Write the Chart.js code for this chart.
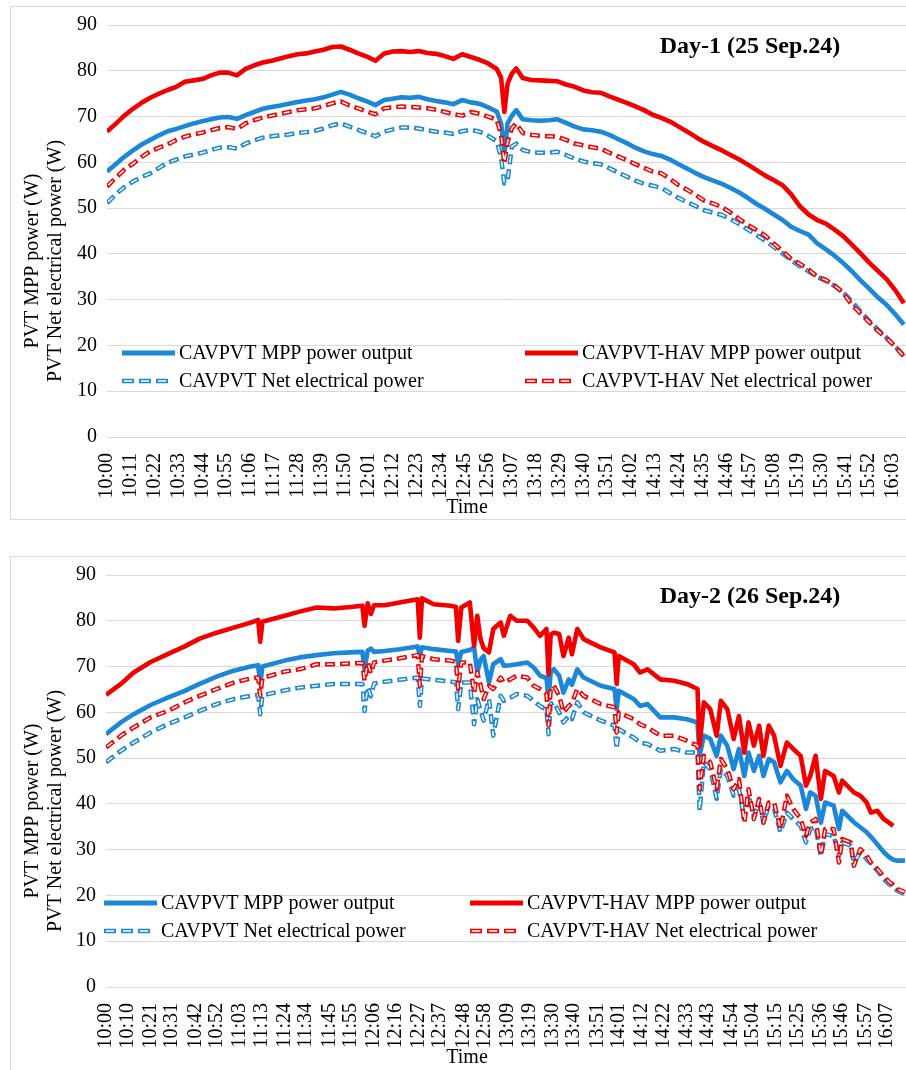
<!DOCTYPE html>
<html>
<head>
<meta charset="utf-8">
<title>PVT MPP and net electrical power</title>
<script src="https://cdn.jsdelivr.net/npm/chart.js@4.4.1/dist/chart.umd.min.js"></script>
<style>
  html, body { margin: 0; padding: 0; background: #fff; overflow: hidden; }
  body { width: 906px; height: 1070px; position: relative; }
  .panel { position: absolute; left: 10px; width: 910px; border: 1px solid #d9d9d9; box-sizing: border-box; background: #fff; }
  .panel canvas { display: block; }
</style>
</head>
<body>
<div class="panel" style="top:6px;height:514px"><canvas id="day1" width="895" height="512"></canvas></div>
<div class="panel" style="top:556px;height:530px"><canvas id="day2" width="895" height="512"></canvas></div>
<script>
// minutes after 10:00
const day1Time = [
  0, 4, 8, 12, 16, 20, 24, 28, 32, 36, 40, 44, 48, 52, 56, 60, 64, 68, 72, 76, 80, 84, 88,
  92, 96, 100, 104, 108, 112, 116, 120, 124, 128, 132, 136, 140, 144, 148, 152, 156, 160,
  164, 168, 172, 176, 180,
  182, 183.5, 185, 187, 189,
  192, 196, 200, 204, 208, 212, 216, 220, 224, 228, 232, 236, 240, 244, 248, 252, 256, 260,
  264, 268, 272, 276, 280, 284, 288, 292, 296, 300, 304, 308, 312, 316, 320, 324, 328, 332,
  336, 340, 344, 348, 352, 356, 360, 364, 368
];
const day1CavMpp = [
  58.0, 59.6, 61.2, 62.6, 63.9, 64.9, 65.9, 66.8, 67.3, 67.9, 68.5, 69.0, 69.4, 69.8, 69.9,
  69.5, 70.3, 71.0, 71.7, 72.1, 72.4, 72.8, 73.2, 73.5, 73.8, 74.2, 74.8, 75.4, 74.8, 74.0,
  73.3, 72.5, 73.6, 73.9, 74.2, 74.1, 74.3, 73.8, 73.4, 73.1, 72.7, 73.6, 73.1, 72.8, 72.0, 71.1,
  68.5, 61.9, 68.5, 70.2, 71.4,
  69.4, 69.2, 69.1, 69.2, 69.4, 68.6, 67.8, 67.2, 67.0, 66.7, 66.0, 65.1, 64.2, 63.2, 62.4,
  61.8, 61.4, 60.6, 59.6, 58.6, 57.6, 56.7, 56.0, 55.3, 54.4, 53.4, 52.2, 50.9, 49.8, 48.6,
  47.4, 45.9, 45.0, 44.2, 42.3, 41.0, 39.6, 38.0, 36.2, 34.2, 32.4, 30.5, 28.9, 26.8, 24.6
];
const day1HavMpp = [
  66.7, 68.4, 70.2, 71.7, 73.0, 74.1, 75.0, 75.8, 76.5, 77.6, 77.9, 78.2, 79.0, 79.6, 79.6,
  79.0, 80.4, 81.2, 81.8, 82.2, 82.7, 83.2, 83.6, 83.8, 84.2, 84.6, 85.2, 85.3, 84.6, 83.8,
  83.1, 82.2, 83.8, 84.2, 84.3, 84.1, 84.3, 83.9, 83.7, 83.2, 82.6, 83.6, 83.0, 82.4, 81.6, 80.4,
  78.5, 71.0, 77.2, 79.4, 80.5,
  78.4, 78.0, 77.9, 77.8, 77.7, 77.0, 76.5, 75.7, 75.3, 75.2, 74.4, 73.7, 73.0, 72.2, 71.4,
  70.4, 69.7, 68.9, 67.8, 66.7, 65.5, 64.4, 63.5, 62.6, 61.6, 60.6, 59.5, 58.3, 57.1, 56.1,
  55.0, 53.0, 50.4, 48.6, 47.4, 46.6, 45.3, 43.9, 42.0, 40.1, 38.1, 36.3, 34.5, 32.1, 29.2
];
const day1CavNet = [
  51.1, 53.0, 54.6, 55.8, 56.8, 57.6, 58.8, 59.9, 60.6, 61.3, 61.7, 62.1, 62.7, 63.2, 63.3,
  63.0, 64.1, 64.8, 65.4, 65.7, 65.9, 66.1, 66.4, 66.6, 66.9, 67.4, 68.1, 68.5, 67.8, 67.1,
  66.4, 65.7, 66.7, 67.2, 67.6, 67.6, 67.4, 67.0, 66.7, 66.5, 66.2, 66.8, 67.1, 66.7, 65.8, 64.6,
  61.0, 55.4, 56.0, 63.5, 64.1,
  62.7, 62.2, 62.1, 62.1, 62.3, 61.6, 60.8, 60.2, 59.8, 59.6, 58.7, 57.8, 56.9, 56.0, 55.3,
  54.9, 54.4, 53.3, 52.2, 51.3, 50.4, 49.5, 49.0, 48.5, 47.6, 46.5, 45.3, 44.1, 42.9, 41.5,
  40.1, 38.6, 37.3, 36.2, 35.0, 34.1, 33.0, 31.6, 29.6, 27.4, 25.4, 23.5, 21.7, 19.8, 17.8
];
const day1HavNet = [
  54.7, 56.6, 58.4, 59.7, 61.2, 62.4, 63.2, 63.9, 64.9, 65.6, 66.1, 66.5, 67.0, 67.5, 67.7,
  67.3, 68.5, 69.2, 69.8, 70.2, 70.6, 71.0, 71.4, 71.6, 71.8, 72.3, 72.9, 73.3, 72.4, 71.8,
  71.1, 70.5, 71.8, 72.0, 72.2, 72.1, 72.0, 71.8, 71.5, 71.0, 70.5, 70.2, 71.0, 70.6, 70.0, 69.3,
  66.0, 59.7, 64.5, 67.5, 68.5,
  66.4, 66.0, 65.8, 65.7, 65.6, 64.9, 64.1, 63.7, 63.3, 63.0, 62.1, 61.3, 60.5, 59.6, 58.8,
  58.0, 57.6, 56.4, 55.0, 54.0, 52.8, 51.6, 51.0, 50.2, 49.0, 47.6, 46.3, 45.2, 44.0, 42.2,
  40.6, 38.9, 37.8, 36.6, 35.0, 34.3, 33.1, 31.5, 28.9, 27.0, 25.1, 23.2, 21.6, 19.8, 17.6
];
const day1Ticks = [
  '10:00', '10:11', '10:22', '10:33', '10:44', '10:55', '11:06', '11:17', '11:28', '11:39',
  '11:50', '12:01', '12:12', '12:23', '12:34', '12:45', '12:56', '13:07', '13:18', '13:29',
  '13:40', '13:51', '14:02', '14:13', '14:24', '14:35', '14:46', '14:57', '15:08', '15:19',
  '15:30', '15:41', '15:52', '16:03'
];

const day2Time = [
  0, 7, 13, 21, 29, 37, 44, 52, 60, 68,
  71.5, 72.5, 73.5, 84, 91, 99, 107, 115, 120.5, 121.5,
  123, 124.5, 126, 131, 138, 146.5, 147.5, 148.5, 154, 162,
  164.5, 165.5, 167, 171, 173, 174.5, 176, 177.5, 180, 182,
  185.5, 187, 190, 193, 198, 201, 204, 207, 208, 209,
  210.5, 213, 215, 217.5, 219, 221.5, 224.5, 232.5, 239, 240,
  241, 248, 251, 254.5, 260.5, 267, 273, 278, 279, 281,
  284, 287, 289, 292, 295, 297.5, 300, 302, 304.5, 307,
  309, 311.5, 314, 317, 320, 323, 326.5, 329, 331, 333.5,
  336, 338, 342, 344.5, 346, 350, 351.5, 354.5, 357.5, 359.5,
  362.5, 365.5, 368, 370, 372, 375.5
];
const day2CavMpp = [
  55.2, 57.8, 59.6, 61.6, 63.2, 64.7, 66.2, 67.8, 69.1, 70.0,
  70.3, 66.2, 70.0, 71.3, 72.0, 72.5, 72.9, 73.1, 73.2, 69.4,
  73.5, 73.9, 73.2, 73.4, 73.8, 74.4, 72.3, 74.2, 73.8, 73.4,
  73.3, 70.5, 73.2, 73.6, 74.2, 68.7, 71.5, 72.3, 66.5, 70.5,
  71.6, 70.2, 70.3, 70.5, 70.9, 69.8, 68.0, 67.5, 62.9, 68.8,
  69.4, 68.0, 64.3, 67.2, 66.0, 69.4, 67.6, 65.8, 65.1, 60.7,
  64.7, 62.9, 61.4, 61.8, 58.9, 58.9, 58.5, 57.8, 50.5, 54.9,
  54.2, 50.5, 54.9, 52.7, 47.6, 52.0, 46.1, 51.2, 47.2, 50.5,
  46.1, 49.8, 49.1, 44.7, 47.2, 45.4, 44.0, 38.9, 42.5, 41.8,
  35.9, 40.3, 39.6, 34.5, 38.5, 36.7, 36.0, 34.9, 33.8, 32.8,
  31.2, 29.5, 28.4, 27.8, 27.6, 27.6
];
const day2HavMpp = [
  63.8, 66.2, 68.7, 71.0, 72.7, 74.4, 76.1, 77.4, 78.5, 79.6,
  80.2, 75.4, 79.8, 81.1, 82.0, 82.9, 82.7, 83.0, 83.3, 78.9,
  83.8, 81.5, 83.4, 83.4, 84.0, 84.7, 76.3, 84.9, 83.6, 83.3,
  83.0, 75.6, 82.9, 84.0, 74.5, 81.1, 76.0, 74.0, 73.1, 78.2,
  79.6, 76.7, 81.1, 80.0, 80.0, 78.5, 76.7, 78.2, 68.3, 77.0,
  77.4, 77.1, 72.3, 76.3, 72.7, 78.2, 76.0, 74.2, 73.1, 66.2,
  72.3, 70.5, 68.7, 69.4, 67.2, 66.9, 66.2, 65.1, 52.7, 62.2,
  60.7, 54.9, 62.5, 60.7, 54.2, 59.2, 51.2, 57.8, 52.7, 57.1,
  50.5, 57.1, 54.9, 48.3, 53.4, 52.0, 50.5, 44.0, 46.1, 50.5,
  41.1, 47.2, 46.1, 42.5, 45.1, 43.2, 42.5, 41.8, 40.3, 38.1,
  38.5, 36.7, 35.9, 35.2, null, null
];
const day2CavNet = [
  49.1, 51.6, 53.4, 55.6, 57.4, 58.9, 60.3, 61.8, 62.9, 63.6,
  63.8, 59.6, 63.7, 64.8, 65.4, 65.8, 66.2, 66.2, 66.2, 60.3,
  65.5, 63.5, 66.3, 66.7, 67.1, 67.6, 61.4, 67.4, 67.1, 66.7,
  66.6, 60.7, 66.5, 66.5, 57.4, 62.9, 60.5, 58.2, 62.9, 54.9,
  63.6, 62.5, 63.2, 64.0, 63.6, 62.5, 61.4, 60.5, 55.2, 61.8,
  62.2, 60.0, 57.8, 59.2, 58.5, 62.2, 60.0, 58.2, 57.1, 52.0,
  56.3, 54.5, 53.4, 53.1, 51.6, 52.0, 51.2, 51.2, 38.5, 49.1,
  47.6, 41.1, 47.6, 46.1, 41.8, 43.2, 36.7, 41.8, 37.4, 40.3,
  35.9, 39.6, 38.9, 33.8, 38.1, 36.7, 35.2, 31.6, 34.5, 34.9,
  28.7, 33.4, 33.0, 28.7, 31.6, 30.9, 27.2, 29.4, 27.9, 27.0,
  25.4, 23.6, 22.5, 21.8, 21.0, 20.3
];
const day2HavNet = [
  52.3, 54.9, 56.7, 58.9, 60.3, 62.2, 63.6, 65.1, 66.5, 67.4,
  67.6, 63.6, 67.5, 68.9, 69.4, 70.5, 70.5, 70.7, 70.8, 66.9,
  70.9, 68.5, 70.9, 71.3, 71.8, 72.5, 65.8, 72.3, 71.6, 71.3,
  71.0, 65.1, 70.9, 70.9, 64.3, 68.7, 66.0, 62.9, 65.8, 65.1,
  67.6, 66.5, 67.2, 68.0, 67.6, 65.8, 65.1, 64.0, 57.1, 65.0,
  65.8, 63.6, 60.0, 61.4, 62.0, 65.1, 63.6, 61.8, 61.1, 55.6,
  60.0, 58.5, 57.4, 56.7, 54.9, 54.9, 53.8, 52.7, 43.2, 50.5,
  49.1, 43.2, 49.8, 47.6, 43.2, 45.4, 35.9, 43.2, 36.7, 41.1,
  35.9, 40.3, 40.3, 34.5, 41.8, 38.9, 36.7, 33.0, 35.9, 36.7,
  28.7, 34.5, 34.5, 27.2, 32.3, 31.6, 26.5, 30.1, 28.7, 27.2,
  25.8, 24.2, 23.0, 22.3, 21.4, 20.7
];
const day2Ticks = [
  '10:00', '10:10', '10:21', '10:31', '10:42', '10:52', '11:03', '11:13', '11:24', '11:34',
  '11:45', '11:55', '12:06', '12:16', '12:27', '12:37', '12:48', '12:58', '13:09', '13:19',
  '13:30', '13:40', '13:51', '14:01', '14:12', '14:22', '14:33', '14:43', '14:54', '15:04',
  '15:15', '15:25', '15:36', '15:46', '15:57', '16:07'
];

const seriesNames = [
  'CAVPVT MPP power output',
  'CAVPVT-HAV MPP power output',
  'CAVPVT Net electrical power',
  'CAVPVT-HAV Net electrical power'
];
const BLUE = '#1b87d6';
const RED = '#f20000';
const FONT = "'Liberation Serif', 'Times New Roman', serif";

Chart.defaults.font.family = FONT;
Chart.defaults.font.size = 20;
Chart.defaults.color = '#000';

function toMinutes(label) {
  const [h, m] = label.split(':').map(Number);
  return (h - 10) * 60 + m;
}

// white core stroked over a dashed line, gives the outlined dash look
const hollowDash = {
  id: 'hollowDash',
  afterDatasetDraw(chart, args) {
    const ds = chart.data.datasets[args.index];
    if (!ds.hollow) return;
    const area = chart.chartArea;
    const ctx = chart.ctx;
    ctx.save();
    ctx.beginPath();
    ctx.rect(area.left, area.top, area.right - area.left, area.bottom - area.top);
    ctx.clip();
    ctx.beginPath();
    let started = false;
    args.meta.data.forEach(p => {
      if (p.skip) return;
      if (!started) { ctx.moveTo(p.x, p.y); started = true; }
      else ctx.lineTo(p.x, p.y);
    });
    ctx.setLineDash([6.4, 8.6]);
    ctx.lineDashOffset = -1.8;
    ctx.lineWidth = 1.5;
    ctx.lineJoin = 'round';
    ctx.strokeStyle = '#fff';
    ctx.stroke();
    ctx.restore();
  }
};

function legendSample(ctx, x, y, color, dashed) {
  ctx.save();
  ctx.strokeStyle = color;
  ctx.beginPath();
  if (dashed) {
    ctx.lineWidth = 4.6;
    ctx.setLineDash([12, 5]);
    ctx.moveTo(x, y);
    ctx.lineTo(x + 46, y);
    ctx.stroke();
    ctx.strokeStyle = '#fff';
    ctx.lineWidth = 1.5;
    ctx.setLineDash([8.5, 8.5]);
    ctx.lineDashOffset = -1.75;
    ctx.stroke();
  } else {
    ctx.lineWidth = 5;
    ctx.moveTo(x, y);
    ctx.lineTo(x + 53, y);
    ctx.stroke();
  }
  ctx.restore();
}

// titles, axis titles and the in-plot legend
const panelText = {
  id: 'panelText',
  afterDraw(chart, args, opts) {
    const ctx = chart.ctx;
    const top = chart.chartArea.top;
    ctx.save();
    ctx.fillStyle = '#000';
    ctx.textAlign = 'center';
    ctx.textBaseline = 'middle';

    ctx.font = 'bold 24px ' + FONT;
    ctx.fillText(opts.title, 739, top + 22);

    ctx.font = '20px ' + FONT;
    ctx.fillText('Time', 456, top + 483);

    ctx.save();
    ctx.translate(33, top + 236);
    ctx.rotate(-Math.PI / 2);
    ctx.fillText('PVT MPP power (W)', 0, -11.5);
    ctx.fillText('PVT Net electrical power (W)', 0, 11.5);
    ctx.restore();

    ctx.textAlign = 'left';
    const rows = [top + 328, top + 356];
    const styles = [[BLUE, false], [RED, false], [BLUE, true], [RED, true]];
    seriesNames.forEach((name, i) => {
      const x = opts.legendX[i % 2];
      const y = rows[Math.floor(i / 2)];
      legendSample(ctx, x, y, styles[i][0], styles[i][1]);
      ctx.fillText(name, x + 57, y + 1);
    });
    ctx.restore();
  }
};

function makeChart(id, time, cavMpp, havMpp, cavNet, havNet, ticks, xMax, yWidth, title, legendX) {
  const pts = vals => time.map((t, i) => ({ x: t, y: vals[i] }));
  const line = (vals, color, dashed, order) => ({
    data: pts(vals),
    borderColor: color,
    borderWidth: dashed ? 4.5 : 4.6,
    borderDash: dashed ? [10, 5] : [],
    hollow: dashed,
    pointRadius: 0,
    tension: 0,
    spanGaps: true,
    borderJoinStyle: 'round',
    order: order
  });
  const tickValues = ticks.map(toMinutes);

  return new Chart(document.getElementById(id), {
    type: 'line',
    data: {
      datasets: [
        Object.assign(line(cavMpp, BLUE, false, 4), { label: seriesNames[0] }),
        Object.assign(line(havMpp, RED, false, 3), { label: seriesNames[1] }),
        Object.assign(line(cavNet, BLUE, true, 2), { label: seriesNames[2] }),
        Object.assign(line(havNet, RED, true, 1), { label: seriesNames[3] })
      ]
    },
    options: {
      responsive: false,
      animation: false,
      devicePixelRatio: 1,
      layout: { padding: { top: 18, right: 0, bottom: 0, left: 0 } },
      plugins: {
        legend: { display: false },
        tooltip: { enabled: false },
        panelText: { title: title, legendX: legendX }
      },
      scales: {
        x: {
          type: 'linear',
          min: 0,
          max: xMax,
          grid: { display: false },
          border: { display: false },
          afterBuildTicks: scale => { scale.ticks = tickValues.map(v => ({ value: v })); },
          afterFit: scale => {
            scale.height = 82;
            scale.paddingLeft = 0;
            scale.paddingRight = 0;
          },
          ticks: {
            autoSkip: false,
            minRotation: 90,
            maxRotation: 90,
            padding: 8,
            color: '#000',
            callback: (value, index) => ticks[index]
          }
        },
        y: {
          min: 0,
          max: 90,
          grid: { color: '#d9d9d9', lineWidth: 1, drawTicks: false },
          border: { display: false },
          afterFit: scale => {
            scale.width = yWidth;
            scale.paddingTop = 0;
            scale.paddingBottom = 0;
          },
          ticks: { stepSize: 10, padding: 10, color: '#000' }
        }
      }
    },
    plugins: [hollowDash, panelText]
  });
}

makeChart('day1', day1Time, day1CavMpp, day1HavMpp, day1CavNet, day1HavNet,
  day1Ticks, 369, 96, 'Day-1 (25 Sep.24)', [111, 514]);
makeChart('day2', day2Time, day2CavMpp, day2HavMpp, day2CavNet, day2HavNet,
  day2Ticks, 376, 95, 'Day-2 (26 Sep.24)', [93, 459]);
</script>
</body>
</html>
